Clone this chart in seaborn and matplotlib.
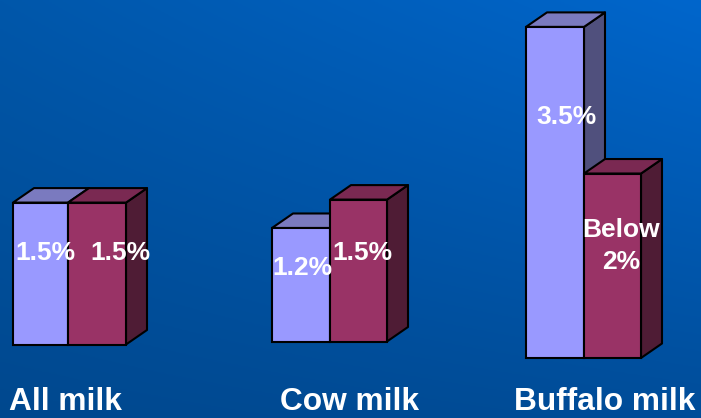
import numpy as np
import pandas as pd
import matplotlib
matplotlib.use("Agg")
import matplotlib.pyplot as plt
from matplotlib.patches import Polygon
from matplotlib.transforms import IdentityTransform
import seaborn as sns

groups = ["All milk", "Cow milk", "Buffalo milk"]
series = ["Series 1", "Series 2"]
series1_values = [1.5, 1.2, 3.5]
series2_values = [1.5, 1.5, 1.95]
series1_labels = ["1.5%", "1.2%", "3.5%"]
series2_labels = ["1.5%", "1.5%", "Below\n2%"]

W, H = 701, 418
FRONT = {"Series 1": "#9999FF", "Series 2": "#993366"}
TOP = {"Series 1": "#7A7ABF", "Series 2": "#7A2952"}
SIDE = {"Series 1": "#50507D", "Series 2": "#4F1C35"}
DEPTH = (21, 14.5)
LW = 1.5
# per-group layout in pixels: left, split, right, baseline (from top)
BOXES = [(13, 68, 126, 344.5), (272, 330, 387, 341.5), (526, 584, 641, 358)]
PX_PER_UNIT = 94.6
YMAX = 3.6

sns.set_theme(style="white")
plt.rcParams["font.family"] = ["Liberation Sans", "DejaVu Sans"]
plt.rcParams["font.weight"] = "bold"

fig = plt.figure(figsize=(W / 100, H / 100), dpi=100)

# background gradient
bg = fig.add_axes([0, 0, 1, 1])
bg.axis("off")
u, v = np.meshgrid(np.linspace(0, 1, 200), np.linspace(0, 1, 200))
corner = {"tl": (0, 87, 170), "tr": (0, 102, 204), "bl": (0, 72, 142), "br": (0, 77, 153)}
img = np.zeros((200, 200, 3))
for c in range(3):
    img[..., c] = ((1 - u) * (1 - v) * corner["tl"][c] + u * (1 - v) * corner["tr"][c]
                   + (1 - u) * v * corner["bl"][c] + u * v * corner["br"][c]) / 255
bg.imshow(img, extent=(0, 1, 0, 1), aspect="auto", origin="upper")


def box3d(ax, patch, name, z):
    x0, x1 = patch.get_x(), patch.get_x() + patch.get_width()
    h = patch.get_height()
    (ax0, ay0), (ax1, ay1) = ax.transData.transform([(x0, 0), (x1, h)])
    dx, dy = DEPTH
    side = [(ax1, ay0), (ax1 + dx, ay0 + dy), (ax1 + dx, ay1 + dy), (ax1, ay1)]
    top = [(ax0, ay1), (ax0 + dx, ay1 + dy), (ax1 + dx, ay1 + dy), (ax1, ay1)]
    for pts, col in ((side, SIDE[name]), (top, TOP[name])):
        ax.add_patch(Polygon(pts, closed=True, facecolor=col, edgecolor="black",
                             linewidth=LW, transform=IdentityTransform(),
                             clip_on=False, zorder=z, joinstyle="round"))


for i, group in enumerate(groups):
    left, split, right, base = BOXES[i]
    height = YMAX * PX_PER_UNIT
    ax = fig.add_axes([left / W, (H - base) / H, (right - left) / W, height / H])
    df = pd.DataFrame({"series": series, "value": [series1_values[i], series2_values[i]]})
    sns.barplot(data=df, x="series", y="value", hue="series", palette=FRONT, dodge=False,
                width=1.0, saturation=1, edgecolor="black", linewidth=LW, legend=False, ax=ax)
    ax.set_xlim(-0.5, 1.5)
    ax.set_ylim(0, YMAX)
    ax.axis("off")
    ax.patch.set_alpha(0)
    bars = [p for p in ax.patches if p.get_height() > 0]
    # shared edge of the two bars sits where the reference puts it
    edge = -0.5 + 2 * (split - left) / (right - left)
    bars[0].set_width(edge + 0.5)
    bars[1].set_x(edge)
    bars[1].set_width(1.5 - edge)
    for name, p, z in zip(series, bars, (0.5, 0.7)):
        p.set_clip_on(False)
        box3d(ax, p, name, z)

TXT = dict(color="white", fontweight="bold", ha="center", va="center", zorder=10)
# value labels: pixel centres
val_pos_1 = [(45, 253), (302, 268), (566, 117)]
val_pos_2 = [(120, 253), (362, 253), (621, 246)]
for (x, y), s in zip(val_pos_1, series1_labels):
    fig.text(x / W, 1 - y / H, s, fontsize=19, **TXT)
for (x, y), s in zip(val_pos_2, series2_labels):
    fig.text(x / W, 1 - y / H, s, fontsize=19, linespacing=1.4, **TXT)

# category labels
cat_x = [65, 350, 605]
for x, s in zip(cat_x, groups):
    fig.text(x / W, 1 - 402.5 / H, s, fontsize=22.8, **TXT)

fig.savefig("out.png", dpi=100)
